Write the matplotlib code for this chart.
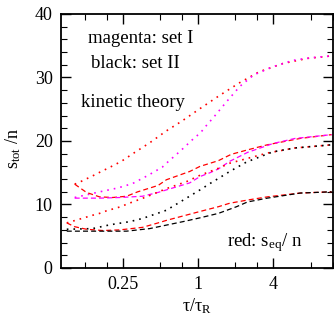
import matplotlib
matplotlib.use("Agg")
import matplotlib.pyplot as plt
from matplotlib.ticker import FixedLocator, FixedFormatter, NullFormatter

plt.rcParams['font.family'] = ['Liberation Serif', 'DejaVu Serif']
plt.rcParams['mathtext.fontset'] = 'custom'
plt.rcParams['mathtext.rm'] = 'Liberation Serif'
plt.rcParams['mathtext.it'] = 'Liberation Serif:italic'

# ---- data ----
x_red_dot_up = [0.103, 0.115, 0.154, 0.168, 0.19, 0.244, 0.312, 0.41, 0.56, 0.74, 1.04, 1.5, 2.17, 3.1, 4.8, 7.5, 11.8]
y_red_dot_up = [13.2, 13.6, 14.8, 15.2, 15.7, 16.8, 18.2, 19.7, 21.6, 23.1, 25.1, 27.2, 29.2, 30.9, 32.2, 33.0, 33.4]

x_mag_dot = [0.103, 0.164, 0.228, 0.30, 0.40, 0.52, 0.56, 0.74, 0.95, 1.04, 1.2, 1.32, 1.7, 2.17, 2.8, 4.0, 5.8, 8.0, 11.8]
y_mag_dot = [11.1, 12.0, 12.6, 13.3, 14.6, 15.9, 16.5, 18.6, 20.6, 21.2, 22.7, 23.6, 26.2, 28.6, 30.4, 31.7, 32.7, 33.1, 33.4]

x_red_dash_up = [0.103, 0.128, 0.163, 0.208, 0.268, 0.33, 0.48, 0.56, 0.86, 1.04, 1.46, 1.85, 2.5, 3.6, 6.6, 11.8]
y_red_dash_up = [13.2, 11.9, 11.2, 11.1, 11.3, 12.0, 13.0, 13.9, 15.2, 16.0, 16.9, 17.9, 18.6, 19.4, 20.4, 21.0]

x_mag_dash = [0.103, 0.163, 0.237, 0.36, 0.48, 0.56, 0.86, 1.04, 1.25, 1.46, 1.8, 2.5, 4.0, 6.0, 11.8]
y_mag_dash = [11.0, 11.0, 11.1, 11.3, 11.9, 12.3, 13.4, 14.4, 15.0, 15.6, 16.8, 18.2, 19.6, 20.4, 21.0]

x_red_dot_mid = [0.089, 0.113, 0.143, 0.163, 0.185, 0.236, 0.30, 0.387, 0.56, 0.81, 1.04, 1.46, 1.8, 3.6, 6.0, 11.8]
y_red_dot_mid = [7.1, 7.7, 8.3, 8.6, 9.0, 9.6, 10.4, 11.2, 12.5, 13.6, 14.6, 15.7, 16.5, 18.1, 18.9, 19.4]

x_blk_dot = [0.089, 0.143, 0.197, 0.285, 0.36, 0.49, 0.56, 0.81, 1.04, 1.25, 1.46, 1.8, 2.46, 4.0, 6.0, 11.8]
y_blk_dot = [6.1, 6.2, 6.8, 7.3, 7.8, 8.7, 9.1, 11.0, 12.3, 13.3, 14.1, 15.2, 16.7, 18.3, 18.9, 19.4]

x_red_dash_lo = [0.089, 0.103, 0.128, 0.173, 0.236, 0.36, 0.48, 0.56, 1.04, 1.46, 1.8, 2.5, 3.6, 6.6, 11.8]
y_red_dash_lo = [7.1, 6.5, 6.1, 5.9, 6.0, 6.4, 7.1, 7.5, 8.9, 9.65, 10.2, 10.7, 11.2, 11.8, 12.0]

x_blk_dash = [0.089, 0.15, 0.268, 0.41, 0.76, 1.04, 1.46, 2.04, 2.5, 3.6, 6.6, 11.8]
y_blk_dash = [5.8, 5.8, 5.8, 6.2, 7.3, 7.9, 8.6, 9.65, 10.4, 11.0, 11.8, 12.0]

x_major = [0.25, 1, 4]
x_major_labels = ["0.25", "1", "4"]
x_minor = [0.125, 0.1875, 0.5, 0.75, 2, 3, 8, 12]
y_major = [0, 10, 20, 30, 40]
y_major_labels = ["0", "10", "20", "30", "40"]
y_minor = [2, 4, 6, 8, 12, 14, 16, 18, 22, 24, 26, 28, 32, 34, 36, 38]

# ---- figure ----
fig = plt.figure(figsize=(3.34, 3.23), dpi=100)
ax = fig.add_axes([0.1826, 0.1703, 0.8144, 0.7864])

dot = (0, (1, 3))
dash = (0, (4, 2.5))
ax.plot(x_red_dot_up, y_red_dot_up, color='#ff0000', lw=1.2, ls=dot)
ax.plot(x_mag_dot, y_mag_dot, color='#ff00ff', lw=1.2, ls=dot)
ax.plot(x_red_dash_up, y_red_dash_up, color='#ff0000', lw=0.9, ls=dash)
ax.plot(x_mag_dash, y_mag_dash, color='#ff00ff', lw=0.9, ls=dash)
ax.plot(x_red_dot_mid, y_red_dot_mid, color='#ff0000', lw=1.2, ls=dot)
ax.plot(x_blk_dot, y_blk_dot, color='black', lw=1.2, ls=dot)
ax.plot(x_red_dash_lo, y_red_dash_lo, color='#ff0000', lw=0.9, ls=dash)
ax.plot(x_blk_dash, y_blk_dash, color='black', lw=0.9, ls=dash)

ax.set_xscale('log')
ax.set_xlim(0.08, 12.1)
ax.set_ylim(0, 40)
ax.xaxis.set_major_locator(FixedLocator(x_major))
ax.xaxis.set_major_formatter(FixedFormatter(x_major_labels))
ax.xaxis.set_minor_locator(FixedLocator(x_minor))
ax.xaxis.set_minor_formatter(NullFormatter())
ax.yaxis.set_major_locator(FixedLocator(y_major))
ax.yaxis.set_major_formatter(FixedFormatter(y_major_labels))
ax.yaxis.set_minor_locator(FixedLocator(y_minor))

ax.tick_params(which='both', direction='in', top=True, right=True, labelsize=13, pad=6)
ax.tick_params(which='major', length=7, width=1.0)
ax.tick_params(which='minor', length=4, width=0.8)
for s in ax.spines.values():
    s.set_linewidth(1.3)

ax.set_xlabel(r"τ/τ$_{\rm R}$", fontsize=13, labelpad=2)
ax.set_ylabel(r"s$_{\rm tot}$ /n", fontsize=13)
ax.yaxis.set_label_coords(-0.14, 0.47)

ax.text(0.1, 0.905, "magenta: set I", transform=ax.transAxes, fontsize=13.5, va='center', ha='left')
ax.text(0.11, 0.805, "black: set II", transform=ax.transAxes, fontsize=13.5, va='center', ha='left')
ax.text(0.075, 0.65, "kinetic theory", transform=ax.transAxes, fontsize=13.5, va='center', ha='left')
ax.text(0.61, 0.1, r"red: s$_{\rm eq}$/ n", transform=ax.transAxes, fontsize=13.5, va='center', ha='left')

fig.savefig("out.png", dpi=100)
